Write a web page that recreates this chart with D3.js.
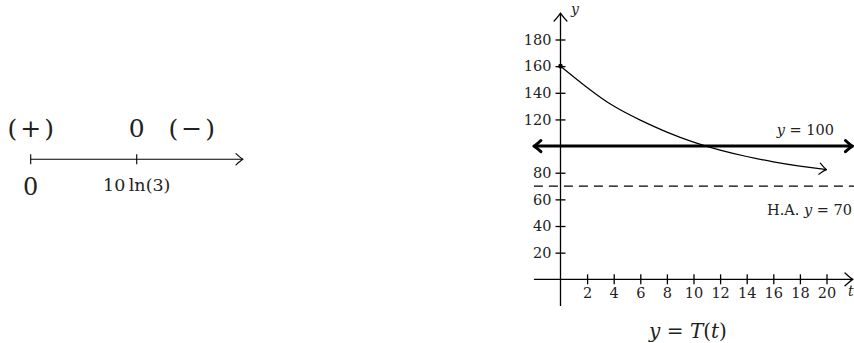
<!DOCTYPE html>
<html>
<head>
<meta charset="utf-8">
<script src="https://cdn.jsdelivr.net/npm/d3@7"></script>
<style>
  html, body { margin: 0; padding: 0; background: #fff; }
  svg { display: block; }
  text { font-family: "DejaVu Serif", serif; fill: #222; }
  .it { font-style: italic; }
</style>
</head>
<body>
<div id="chart"></div>
<script>
// --- sign chart data (left) ---
var signTicks = [0, 10 * Math.log(3)];
var signTickLabels = ['0', '10\u2009ln(3)'];
var signPos = [0, 10 * Math.log(3), 16.7];
var signText = ['(+)', '0', '(\u2212)'];

// --- graph data (right): y = T(t) ---
var tValues = [0, 2, 4, 6, 8, 10, 12, 14, 16, 18, 20];
var yValues = [160, 144, 130, 119.5, 110.5, 103, 97, 92.2, 88.2, 85, 82.3];
var xTicks = [2, 4, 6, 8, 10, 12, 14, 16, 18, 20];
var yTicks = [20, 40, 60, 80, 120, 140, 160, 180];
var solidLevel = 100;   // y = 100
var asymptote = 70;     // H.A. y = 70

var W = 854, H = 343;
var svg = d3.select('#chart').append('svg')
  .attr('width', W).attr('height', H)
  .attr('xmlns', 'http://www.w3.org/2000/svg');
svg.append('rect').attr('width', W).attr('height', H).attr('fill', '#fff');

// open LaTeX-style arrowhead at (x,y) pointing along angle (radians)
function arrowHead(g, x, y, angle, size, width) {
  var s = size || 7;
  g.append('path')
    .attr('d', 'M' + (-s) + ',' + (-s * 0.8) + ' Q' + (-s * 0.3) + ',' + (-s * 0.15) + ' 0,0 Q' + (-s * 0.3) + ',' + (s * 0.15) + ' ' + (-s) + ',' + (s * 0.8))
    .attr('transform', 'translate(' + x + ',' + y + ') rotate(' + (angle * 180 / Math.PI) + ')')
    .attr('fill', 'none').attr('stroke', '#000')
    .attr('stroke-width', width || 1.1)
    .attr('stroke-linecap', 'round').attr('stroke-linejoin', 'round');
}

// ================= sign chart =================
var s = d3.scaleLinear().domain([0, 22]).range([30.7, 243]);
var lineY = 159.3;
var sg = svg.append('g');
sg.append('line').attr('x1', s(0)).attr('x2', s(22) - 1)
  .attr('y1', lineY).attr('y2', lineY).attr('stroke', '#000').attr('stroke-width', 1.1);
arrowHead(sg, s(22), lineY, 0, 7);
sg.selectAll('.stick').data(signTicks).enter().append('line')
  .attr('x1', function(d) { return s(d); }).attr('x2', function(d) { return s(d); })
  .attr('y1', lineY - 5).attr('y2', lineY + 5)
  .attr('stroke', '#000').attr('stroke-width', 1.1);
sg.selectAll('.slab').data(signTicks).enter().append('text')
  .attr('x', function(d) { return s(d); })
  .attr('y', function(d, i) { return i === 0 ? 195 : 191; })
  .attr('text-anchor', 'middle')
  .attr('font-size', function(d, i) { return i === 0 ? 24 : 17.5; })
  .text(function(d, i) { return signTickLabels[i]; });
sg.selectAll('.ssign').data(signPos).enter().append('text')
  .attr('x', function(d, i) { return s(d) + (i === 1 ? 0 : 1.5); })
  .attr('y', 137)
  .attr('text-anchor', 'middle')
  .attr('font-size', 25)
  .attr('letter-spacing', function(d, i) { return i === 1 ? 0 : 3; })
  .text(function(d, i) { return signText[i]; });

// ================= graph =================
var x = d3.scaleLinear().domain([0, 20]).range([560.5, 826.5]);
var y = d3.scaleLinear().domain([0, 180]).range([279.3, 39.5]);
var g = svg.append('g');

// axes lines
g.append('line').attr('x1', x(-2)).attr('x2', W - 2)
  .attr('y1', y(0)).attr('y2', y(0)).attr('stroke', '#000').attr('stroke-width', 1.3);
arrowHead(g, W - 1, y(0), 0, 8, 1.3);
g.append('line').attr('x1', x(0)).attr('x2', x(0))
  .attr('y1', y(-20)).attr('y2', 14).attr('stroke', '#000').attr('stroke-width', 1.3);
arrowHead(g, x(0), 13, -Math.PI / 2, 8, 1.3);

// y axis ticks + labels
var yAxis = g.append('g').attr('transform', 'translate(' + x(0) + ',0)')
  .call(d3.axisLeft(y).tickValues(yTicks).tickSize(5).tickPadding(4));
yAxis.select('.domain').remove();
yAxis.selectAll('.tick line').attr('x1', -5).attr('x2', 5).attr('stroke', '#000').attr('stroke-width', 1.3);
yAxis.selectAll('.tick text').attr('font-family', '"DejaVu Serif", serif').attr('font-size', 14.5).attr('fill', '#222');

// x axis ticks + labels
var xAxis = g.append('g').attr('transform', 'translate(0,' + y(0) + ')')
  .call(d3.axisBottom(x).tickValues(xTicks).tickSize(5).tickPadding(3));
xAxis.select('.domain').remove();
xAxis.selectAll('.tick line').attr('y1', -5).attr('y2', 5).attr('stroke', '#000').attr('stroke-width', 1.3);
xAxis.selectAll('.tick text').attr('font-family', '"DejaVu Serif", serif').attr('font-size', 14.5).attr('fill', '#222');

// axis names
g.append('text').attr('class', 'it').attr('x', 571).attr('y', 14).attr('font-size', 14).text('y');
g.append('text').attr('class', 'it').attr('x', 848).attr('y', 296).attr('font-size', 14).text('t');

// dashed asymptote y = 70
g.append('line').attr('x1', x(-2)).attr('x2', W)
  .attr('y1', y(asymptote)).attr('y2', y(asymptote))
  .attr('stroke', '#000').attr('stroke-width', 1.3).attr('stroke-dasharray', '9,6');
g.append('text').attr('x', 852).attr('y', 215).attr('text-anchor', 'end').attr('font-size', 14.5)
  .html('H.A. <tspan font-style="italic">y</tspan> = 70');

// thick line y = 100 with arrows both ways
g.append('line').attr('x1', x(-2) + 2).attr('x2', W - 3)
  .attr('y1', y(solidLevel)).attr('y2', y(solidLevel))
  .attr('stroke', '#000').attr('stroke-width', 3);
arrowHead(g, W - 1.5, y(solidLevel), 0, 7, 3);
arrowHead(g, x(-2), y(solidLevel), Math.PI, 7, 3);
g.append('text').attr('x', 834).attr('y', 135).attr('text-anchor', 'end').attr('font-size', 14.5)
  .html('<tspan font-style="italic">y</tspan> = 100');

// curve T(t)
var pts = tValues.map(function(t, i) { return [t, yValues[i]]; });
var line = d3.line().x(function(d) { return x(d[0]); }).y(function(d) { return y(d[1]); })
  .curve(d3.curveNatural);
g.append('path').datum(pts).attr('d', line)
  .attr('fill', 'none').attr('stroke', '#000').attr('stroke-width', 1.2);
var pa = pts[pts.length - 2], pb = pts[pts.length - 1];
var ang = Math.atan2(y(pb[1]) - y(pa[1]), x(pb[0]) - x(pa[0]));
arrowHead(g, x(pb[0]), y(pb[1]), ang, 7, 1.2);
g.append('circle').attr('cx', x(pts[0][0])).attr('cy', y(pts[0][1])).attr('r', 2.3).attr('fill', '#000');

// caption
g.append('text').attr('x', 688).attr('y', 338).attr('text-anchor', 'middle').attr('font-size', 20)
  .html('<tspan font-style="italic">y</tspan> = <tspan font-style="italic">T</tspan>(<tspan font-style="italic">t</tspan>)');
</script>
</body>
</html>
